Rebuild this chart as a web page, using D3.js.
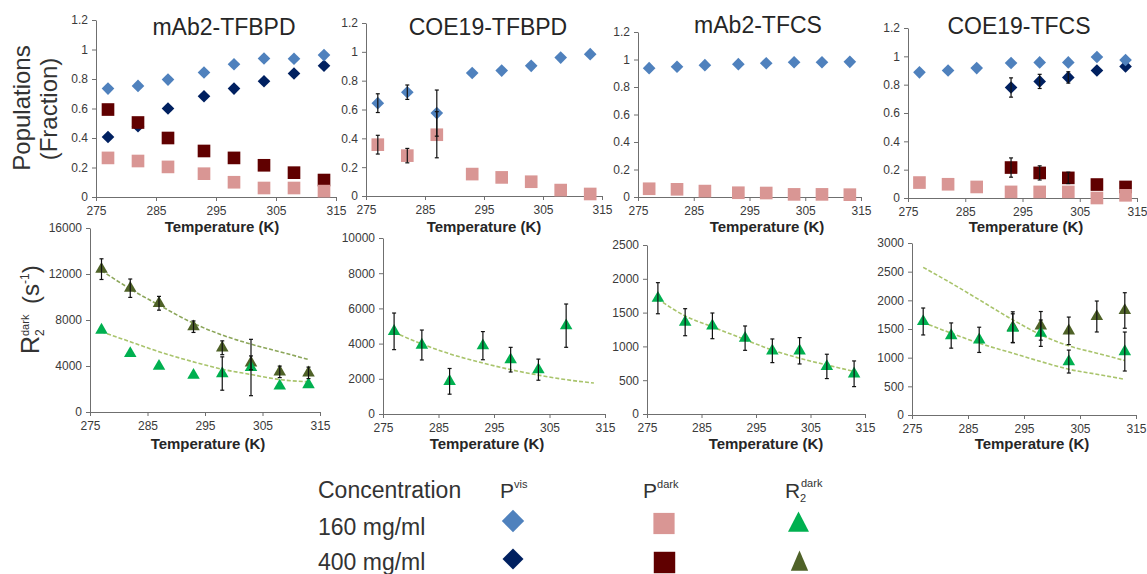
<!DOCTYPE html>
<html>
<head>
<meta charset="utf-8">
<script src="https://cdn.jsdelivr.net/npm/d3@7"></script>
<style>
  body { margin: 0; background: #fff; }
  svg { font-family: "Liberation Sans", Arial, sans-serif; }
</style>
</head>
<body>
<svg width="1147" height="574"></svg>
<script>
// temperatures (K) where samples were measured
const temps = [277, 282, 287, 293, 298, 303, 308, 313];
const tempTicks = [275, 285, 295, 305, 315];
const popTicks = [0, 0.2, 0.4, 0.6, 0.8, 1, 1.2];
const r2TicksMabBpd = [0, 4000, 8000, 12000, 16000];
const r2TicksCoeBpd = [0, 2000, 4000, 6000, 8000, 10000];
const r2TicksMabCs = [0, 500, 1000, 1500, 2000, 2500];
const r2TicksCoeCs = [0, 500, 1000, 1500, 2000, 2500, 3000];
const panelNames = ['mAb2-TFBPD', 'COE19-TFBPD', 'mAb2-TFCS', 'COE19-TFCS'];

// populations - mAb2-TFBPD
const mabBpdVis160 = [0.735, 0.753, 0.796, 0.844, 0.90, 0.939, 0.937, 0.962];
const mabBpdVis400 = [0.407, 0.48, 0.60, 0.683, 0.735, 0.785, 0.837, 0.89];
const mabBpdDark160 = [0.265, 0.244, 0.204, 0.158, 0.10, 0.061, 0.061, 0.04];
const mabBpdDark400 = [0.593, 0.505, 0.40, 0.312, 0.265, 0.215, 0.165, 0.115];

// populations - COE19-TFBPD
const coeBpdVis160 = [0.644, 0.72, 0.575, 0.853, 0.87, 0.903, 0.96, 0.984];
const coeBpdDark160 = [0.356, 0.28, 0.425, 0.152, 0.129, 0.099, 0.041, 0.014];
const coeBpdErr160 = [0.065, 0.05, 0.16, null, null, null, null, null];

// populations - mAb2-TFCS
const mabCsVis160 = [0.937, 0.947, 0.959, 0.966, 0.973, 0.98, 0.98, 0.983];
const mabCsDark160 = [0.06, 0.056, 0.043, 0.031, 0.029, 0.019, 0.019, 0.017];

// populations - COE19-TFCS
const coeCsVis160 = [0.887, 0.90, 0.917, 0.953, 0.957, 0.957, 0.995, 0.974];
const coeCsVis400 = [null, null, null, 0.78, 0.823, 0.851, 0.90, 0.929];
const coeCsDark160 = [0.109, 0.097, 0.078, 0.043, 0.043, 0.043, 0.0, 0.019];
const coeCsDark400 = [null, null, null, 0.215, 0.177, 0.142, 0.095, 0.078];
const coeCsErr400 = [null, null, null, 0.068, 0.05, 0.04, null, null];

// R2 dark (s-1)
const mabBpdR2_160 = [7127, 5091, 3985, 3200, 3345, 3869, 2269, 2385];
const mabBpdR2Err160 = [null, null, null, null, 1450, 2450, null, null];
const mabBpdR2_400 = [12422, 10764, 9455, 7418, 5585, 4276, 3491, 3404];
const mabBpdR2Err400 = [900, 800, 600, 500, 600, 600, 500, 500];
const mabBpdFit160 = [6980, 6110, 5240, 4360, 3720, 3260, 2820, 2620];
const mabBpdFit400 = [12300, 10700, 9300, 7710, 6690, 5900, 5240, 4570];

const coeBpdR2_160 = [4697, 3920, 1856, 3883, 3087, 2519, 5019, null];
const coeBpdR2Err160 = [1040, 850, 730, 800, 700, 600, 1230, null];
const coeBpdFit160 = [4640, 3980, 3420, 2900, 2520, 2210, 1950, 1760];

const mabCsR2_160 = [1713, 1358, 1304, 1122, 935, 935, 704, 595];
const mabCsR2Err160 = [230, 200, 190, 180, 175, 195, 180, 190];
const mabCsFit160 = [1700, 1450, 1290, 1100, 945, 825, 725, 630];

const coeCsR2_160 = [1631, 1386, 1311, 1515, 1427, 932, null, 1107];
const coeCsR2Err160 = [235, 220, 220, 250, 230, 200, null, 340];
const coeCsR2_400 = [null, null, null, 1530, 1555, 1468, 1718, 1823];
const coeCsR2Err400 = [null, null, null, 270, 250, 240, 270, 310];
const coeCsFit160 = [1614, 1427, 1252, 1078, 932, 798, 711, 623];
const coeCsFit400 = [2575, 2300, 2010, 1660, 1400, 1206, 1078, 950];

// marker look per series kind
const looks = {
  vis160: {shape: 'diamond', color: '#4f81bd', size: 80},
  vis400: {shape: 'diamond', color: '#002060', size: 80},
  dark160: {shape: 'square', color: '#d99694', size: 160},
  dark400: {shape: 'square', color: '#600000', size: 160},
  r2160: {shape: 'triangle', color: '#00b050', size: 68},
  r2400: {shape: 'triangle', color: '#4f6228', size: 68}
};
const fit160Color = '#a9c46c';
const fit400Color = '#8ca65a';

const svg = d3.select('svg');

function symbolPath(shape, size) {
  if (shape === 'triangle') return d3.symbol(d3.symbolTriangle, size)();
  return d3.symbol(d3.symbolSquare, size)();
}

function drawPanel(p) {
  const x = d3.scaleLinear().domain([275, 315]).range([p.box.x0, p.box.x1]);
  const y = d3.scaleLinear().domain([0, p.yMax]).range([p.box.y0, p.box.y1]);
  const g = svg.append('g');

  g.append('g')
    .attr('transform', `translate(0,${p.box.y0})`)
    .call(d3.axisBottom(x).tickValues(tempTicks).tickSize(4).tickSizeOuter(0).tickPadding(5));
  g.append('g')
    .attr('transform', `translate(${p.box.x0},0)`)
    .call(d3.axisLeft(y).tickValues(p.yTicks).tickFormat(d => String(d))
      .tickSize(4).tickSizeOuter(0).tickPadding(4));
  g.selectAll('.domain, .tick line').attr('stroke', '#6f6f6f');
  g.selectAll('g > g').attr('font-family', null).attr('font-size', null);
  g.selectAll('.tick text').attr('fill', '#3a3a3a').style('font-size', '12px');

  // dashed fits
  const line = d3.line()
    .defined(d => d[1] != null)
    .x(d => x(d[0]))
    .y(d => y(d[1]))
    .curve(d3.curveMonotoneX);
  (p.fits || []).forEach(f => {
    g.append('path')
      .datum(temps.map((t, i) => [t, f.values[i]]))
      .attr('d', line)
      .attr('fill', 'none')
      .attr('stroke', f.color)
      .attr('stroke-width', 1.6)
      .attr('stroke-dasharray', '4,2');
  });

  // markers
  p.series.forEach(s => {
    const look = looks[s.kind];
    const pts = temps.map((t, i) => ({t: t, v: s.values[i]})).filter(d => d.v != null);
    g.append('g').selectAll('path')
      .data(pts)
      .join('path')
      .attr('d', symbolPath(look.shape, look.size))
      .attr('transform', d => `translate(${x(d.t)},${y(d.v)})` + (look.shape === 'diamond' ? ' rotate(45)' : ''))
      .attr('fill', look.color);
  });

  // error bars on top
  p.series.forEach(s => {
    if (!s.err) return;
    const pts = temps.map((t, i) => ({t: t, v: s.values[i], e: s.err[i]}))
      .filter(d => d.v != null && d.e != null);
    const eg = g.append('g').attr('stroke', '#111').attr('stroke-width', 1.2);
    pts.forEach(d => {
      const cx = x(d.t);
      eg.append('line').attr('x1', cx).attr('x2', cx).attr('y1', y(d.v - d.e)).attr('y2', y(d.v + d.e));
      eg.append('line').attr('x1', cx - 2).attr('x2', cx + 2).attr('y1', y(d.v - d.e)).attr('y2', y(d.v - d.e));
      eg.append('line').attr('x1', cx - 2).attr('x2', cx + 2).attr('y1', y(d.v + d.e)).attr('y2', y(d.v + d.e));
    });
  });

  if (p.title) {
    svg.append('text')
      .attr('x', p.titleX).attr('y', p.titleY)
      .attr('text-anchor', 'middle')
      .attr('fill', '#262626')
      .style('font-size', '23px')
      .text(p.title);
  }
  svg.append('text')
    .attr('x', p.labelX).attr('y', p.labelY)
    .attr('text-anchor', 'middle')
    .attr('fill', '#262626')
    .style('font-size', '15px')
    .style('font-weight', 'bold')
    .text('Temperature (K)');
}

// top row: populations
drawPanel({
  box: {x0: 96, x1: 336, y0: 197, y1: 20}, yMax: 1.2, yTicks: popTicks,
  title: panelNames[0], titleX: 224, titleY: 35, labelX: 222, labelY: 232,
  series: [
    {kind: 'vis400', values: mabBpdVis400},
    {kind: 'dark400', values: mabBpdDark400},
    {kind: 'vis160', values: mabBpdVis160},
    {kind: 'dark160', values: mabBpdDark160}
  ]
});
drawPanel({
  box: {x0: 366, x1: 602, y0: 196, y1: 23}, yMax: 1.2, yTicks: popTicks,
  title: panelNames[1], titleX: 488, titleY: 35, labelX: 484, labelY: 232,
  series: [
    {kind: 'vis160', values: coeBpdVis160, err: coeBpdErr160},
    {kind: 'dark160', values: coeBpdDark160, err: coeBpdErr160}
  ]
});
drawPanel({
  box: {x0: 638, x1: 861, y0: 197, y1: 32}, yMax: 1.2, yTicks: popTicks,
  title: panelNames[2], titleX: 758, titleY: 33, labelX: 767, labelY: 232,
  series: [
    {kind: 'vis160', values: mabCsVis160},
    {kind: 'dark160', values: mabCsDark160}
  ]
});
drawPanel({
  box: {x0: 908, x1: 1137, y0: 198, y1: 28}, yMax: 1.2, yTicks: popTicks,
  title: panelNames[3], titleX: 1019, titleY: 34, labelX: 1026, labelY: 232,
  series: [
    {kind: 'vis400', values: coeCsVis400, err: coeCsErr400},
    {kind: 'dark400', values: coeCsDark400, err: coeCsErr400},
    {kind: 'vis160', values: coeCsVis160},
    {kind: 'dark160', values: coeCsDark160}
  ]
});

// bottom row: R2 dark
drawPanel({
  box: {x0: 90, x1: 320, y0: 412, y1: 228}, yMax: 16000, yTicks: r2TicksMabBpd,
  labelX: 208, labelY: 449,
  fits: [{values: mabBpdFit400, color: fit400Color}, {values: mabBpdFit160, color: fit160Color}],
  series: [
    {kind: 'r2400', values: mabBpdR2_400, err: mabBpdR2Err400},
    {kind: 'r2160', values: mabBpdR2_160, err: mabBpdR2Err160}
  ]
});
drawPanel({
  box: {x0: 383, x1: 605, y0: 414, y1: 238}, yMax: 10000, yTicks: r2TicksCoeBpd,
  labelX: 487, labelY: 449,
  fits: [{values: coeBpdFit160, color: fit160Color}],
  series: [{kind: 'r2160', values: coeBpdR2_160, err: coeBpdR2Err160}]
});
drawPanel({
  box: {x0: 647, x1: 865, y0: 414, y1: 245}, yMax: 2500, yTicks: r2TicksMabCs,
  labelX: 766, labelY: 449,
  fits: [{values: mabCsFit160, color: fit160Color}],
  series: [{kind: 'r2160', values: mabCsR2_160, err: mabCsR2Err160}]
});
drawPanel({
  box: {x0: 912, x1: 1136, y0: 415, y1: 243}, yMax: 3000, yTicks: r2TicksCoeCs,
  labelX: 1032, labelY: 449,
  fits: [{values: coeCsFit400, color: fit160Color}, {values: coeCsFit160, color: fit160Color}],
  series: [
    {kind: 'r2400', values: coeCsR2_400, err: coeCsR2Err400},
    {kind: 'r2160', values: coeCsR2_160, err: coeCsR2Err160}
  ]
});

// y axis titles
const txtColor = '#333';
svg.append('text')
  .attr('transform', 'translate(30,108) rotate(-90)')
  .attr('text-anchor', 'middle').attr('fill', txtColor)
  .style('font-size', '24px').text('Populations');
svg.append('text')
  .attr('transform', 'translate(57,109) rotate(-90)')
  .attr('text-anchor', 'middle').attr('fill', txtColor)
  .style('font-size', '24px').text('(Fraction)');

const r2Label = svg.append('g')
  .attr('transform', 'translate(39,354) rotate(-90)')
  .attr('fill', txtColor);
r2Label.append('text').attr('x', 0).attr('y', 0).style('font-size', '25px').text('R');
r2Label.append('text').attr('x', 18).attr('y', 5).style('font-size', '12px').text('2');
r2Label.append('text').attr('x', 18).attr('y', -10).style('font-size', '11px').text('dark');
const sText = r2Label.append('text').attr('x', 50).attr('y', 0).style('font-size', '24px');
sText.append('tspan').text('(s');
sText.append('tspan').attr('dy', -10).style('font-size', '12px').text('-1');
sText.append('tspan').attr('dy', 10).text(')');

// legend
const legend = svg.append('g').attr('fill', txtColor);
legend.append('text').attr('x', 318).attr('y', 498).style('font-size', '23px').text('Concentration');
legend.append('text').attr('x', 318).attr('y', 535).style('font-size', '23px').text('160 mg/ml');
legend.append('text').attr('x', 318).attr('y', 570).style('font-size', '23px').text('400 mg/ml');

const pVis = legend.append('text').attr('x', 500).attr('y', 498).style('font-size', '21px');
pVis.append('tspan').text('P');
pVis.append('tspan').attr('dy', -10).style('font-size', '11px').text('vis');
const pDark = legend.append('text').attr('x', 643).attr('y', 498).style('font-size', '21px');
pDark.append('tspan').text('P');
pDark.append('tspan').attr('dy', -10).style('font-size', '11px').text('dark');
legend.append('text').attr('x', 785).attr('y', 498).style('font-size', '21px').text('R');
legend.append('text').attr('x', 800).attr('y', 502).style('font-size', '11px').text('2');
legend.append('text').attr('x', 801).attr('y', 487).style('font-size', '11px').text('dark');

const legendMarks = [
  {kind: 'vis160', x: 513, y: 521, size: 250, sy: 1},
  {kind: 'vis400', x: 513, y: 559, size: 220, sy: 1},
  {kind: 'dark160', x: 664, y: 523.5, size: 450, sy: 1},
  {kind: 'dark400', x: 664.5, y: 562.5, size: 460, sy: 1},
  {kind: 'r2160', x: 798.5, y: 525, size: 190, sy: 1.12},
  {kind: 'r2400', x: 799.5, y: 564, size: 130, sy: 1.35}
];
svg.append('g').selectAll('path')
  .data(legendMarks)
  .join('path')
  .attr('d', d => symbolPath(looks[d.kind].shape, d.size))
  .attr('transform', d => `translate(${d.x},${d.y})` +
    (looks[d.kind].shape === 'diamond' ? ' rotate(45)' : ` scale(1,${d.sy})`))
  .attr('fill', d => looks[d.kind].color);
</script>
</body>
</html>
